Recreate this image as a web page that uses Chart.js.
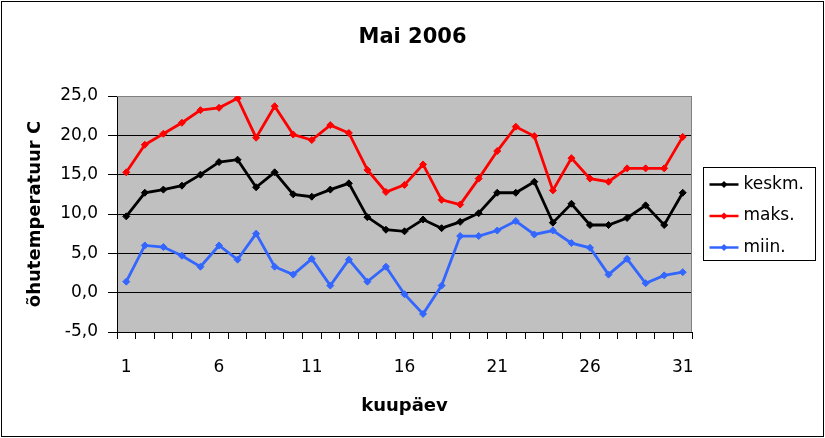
<!DOCTYPE html>
<html>
<head>
<meta charset="utf-8">
<script src="https://cdn.jsdelivr.net/npm/chart.js@4.4.1/dist/chart.umd.min.js"></script>
<style>
  html, body { margin: 0; padding: 0; background: #fff; }
  #wrap { width: 825px; height: 438px; position: relative; }
</style>
</head>
<body>
<div id="wrap"><canvas id="tempChart"></canvas></div>
<script>
// --- Andmed (loetud pildilt) ---
const pealkiri = 'Mai 2006';
const paevad = [1, 2, 3, 4, 5, 6, 7, 8, 9, 10, 11, 12, 13, 14, 15, 16,
                17, 18, 19, 20, 21, 22, 23, 24, 25, 26, 27, 28, 29, 30, 31];
const naidatudPaevad = [1, 6, 11, 16, 21, 26, 31];

const keskm = [9.7, 12.7, 13.1, 13.6, 15.0, 16.6, 16.9, 13.4, 15.3, 12.5,
               12.2, 13.1, 13.9, 9.6, 8.0, 7.8, 9.3, 8.2, 9.0, 10.1,
               12.7, 12.7, 14.1, 8.9, 11.3, 8.6, 8.6, 9.5, 11.1, 8.6, 12.7];
const maks = [15.3, 18.8, 20.2, 21.6, 23.2, 23.5, 24.7, 19.7, 23.7, 20.1,
              19.4, 21.3, 20.3, 15.6, 12.8, 13.7, 16.3, 11.8, 11.2, 14.5,
              18.0, 21.1, 19.9, 13.0, 17.1, 14.5, 14.1, 15.8, 15.8, 15.8, 19.8];
const miin = [1.4, 6.0, 5.8, 4.7, 3.3, 6.0, 4.2, 7.5, 3.3, 2.3,
              4.3, 0.9, 4.2, 1.4, 3.3, -0.2, -2.7, 0.9, 7.2, 7.2,
              7.9, 9.1, 7.4, 7.9, 6.3, 5.7, 2.3, 4.3, 1.2, 2.2, 2.6];

const yMin = -5, yMax = 25, yStep = 5;

const FONT = "'DejaVu Sans', sans-serif";

// --- Excel-laadne taust, raam, pealkiri ja legend ---
const excelLook = {
    id: 'excelLook',
    beforeDraw(chart) {
        const { ctx, chartArea: a, width, height } = chart;
        ctx.save();
        ctx.fillStyle = '#ffffff';
        ctx.fillRect(0, 0, width, height);
        ctx.fillStyle = '#c0c0c0';
        ctx.fillRect(a.left, a.top, a.right - a.left, a.bottom - a.top);
        ctx.strokeStyle = '#000';
        ctx.lineWidth = 1;
        ctx.strokeRect(1.5, 1.5, width - 3, height - 3);
        // pealkiri keset kogu pilti
        ctx.fillStyle = '#000';
        ctx.font = 'bold 21px ' + FONT;
        ctx.textAlign = 'center';
        ctx.textBaseline = 'middle';
        ctx.fillText(pealkiri, width / 2, 38);
        ctx.restore();
    },
    beforeDatasetsDraw(chart) {
        const { ctx, chartArea: a } = chart;
        ctx.save();
        ctx.strokeStyle = '#808080';
        ctx.lineWidth = 1;
        ctx.beginPath();
        ctx.moveTo(a.left, a.top + 0.5);
        ctx.lineTo(a.right - 0.5, a.top + 0.5);
        ctx.lineTo(a.right - 0.5, a.bottom);
        ctx.stroke();
        ctx.restore();
    },
    afterDraw(chart) {
        const { ctx, chartArea: a } = chart;
        const bx = Math.round(a.right) + 11.5, by = 167.5, bw = 112, bh = 93;
        ctx.save();
        ctx.fillStyle = '#fff';
        ctx.fillRect(bx, by, bw, bh);
        ctx.strokeStyle = '#000';
        ctx.lineWidth = 1;
        ctx.strokeRect(bx, by, bw, bh);
        ctx.font = '17px ' + FONT;
        ctx.textBaseline = 'middle';
        ctx.textAlign = 'left';
        chart.data.datasets.forEach((ds, i) => {
            const y = by + 17 + i * 31.5;
            ctx.strokeStyle = ds.borderColor;
            ctx.lineWidth = 2.5;
            ctx.beginPath();
            ctx.moveTo(bx + 6, y);
            ctx.lineTo(bx + 35, y);
            ctx.stroke();
            const cx = bx + 20.5;
            ctx.fillStyle = ds.borderColor;
            ctx.beginPath();
            ctx.moveTo(cx, y - 3.5);
            ctx.lineTo(cx + 3.5, y);
            ctx.lineTo(cx, y + 3.5);
            ctx.lineTo(cx - 3.5, y);
            ctx.closePath();
            ctx.fill();
            ctx.fillStyle = '#000';
            ctx.fillText(ds.label, bx + 40, y);
        });
        ctx.restore();
    }
};

function seeria(nimi, andmed, varv) {
    return {
        label: nimi,
        data: andmed,
        borderColor: varv,
        backgroundColor: varv,
        borderWidth: 2.8,
        pointStyle: 'rectRot',
        pointRadius: 3.5,
        pointBorderWidth: 1,
        pointBackgroundColor: varv,
        pointBorderColor: varv,
        fill: false,
        tension: 0
    };
}

const ctx = document.getElementById('tempChart').getContext('2d');
const tempChart = new Chart(ctx, {
    type: 'line',
    data: {
        labels: paevad,
        datasets: [
            seeria('keskm.', keskm, '#000000'),
            seeria('maks.', maks, '#ff0000'),
            seeria('miin.', miin, '#3366ff')
        ]
    },
    options: {
        responsive: true,
        maintainAspectRatio: false,
        animation: false,
        layout: { padding: { left: 0, right: 133, top: 96, bottom: 0 } },
        plugins: {
            legend: { display: false },
            tooltip: { enabled: false },
            title: { display: false }
        },
        scales: {
            x: {
                type: 'category',
                offset: true,
                grid: { offset: true, drawOnChartArea: false, color: '#000', tickLength: 7 },
                border: { color: '#000', width: 1 },
                ticks: {
                    autoSkip: false,
                    maxRotation: 0,
                    minRotation: 0,
                    padding: 18,
                    color: '#000',
                    font: { family: FONT, size: 17 },
                    callback: (v, i) => naidatudPaevad.includes(paevad[i]) ? String(paevad[i]) : ''
                },
                title: {
                    display: true,
                    text: 'kuupäev',
                    color: '#000',
                    font: { family: FONT, size: 18, weight: 'bold' },
                    padding: { top: 0, bottom: 21 }
                },
                afterFit: (scale) => { scale.height = 106; }
            },
            y: {
                min: yMin,
                max: yMax,
                grid: {
                    color: (c) => (c.tick && c.tick.value === yMax) ? '#808080' : '#000',
                    tickColor: '#000',
                    tickLength: 9
                },
                border: { color: '#000', width: 1 },
                ticks: {
                    stepSize: yStep,
                    padding: 10,
                    color: '#000',
                    font: { family: FONT, size: 17 },
                    callback: (v) => v.toFixed(1).replace('.', ',')
                },
                title: {
                    display: true,
                    text: 'õhutemperatuur C',
                    color: '#000',
                    font: { family: FONT, size: 18, weight: 'bold' },
                    padding: { top: 25, bottom: 0 }
                },
                afterFit: (scale) => { scale.width = 117; }
            }
        }
    },
    plugins: [excelLook]
});
</script>
</body>
</html>
